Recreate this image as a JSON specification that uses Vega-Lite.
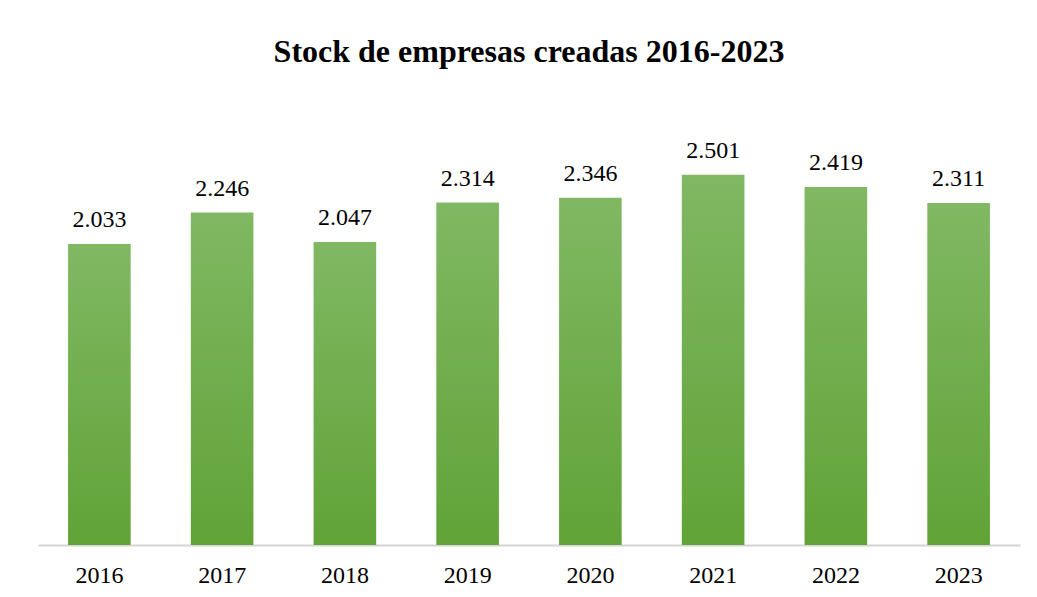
{
  "$schema": "https://vega.github.io/schema/vega-lite/v6.json",
  "autosize": "none",
  "width": 982,
  "height": 444,
  "padding": {"left": 38, "top": 101, "right": 17, "bottom": 52},
  "background": "white",
  "config": {
    "view": {"stroke": null},
    "locale": {"number": {"decimal": ",", "thousands": ".", "grouping": [3], "currency": ["", " €"]}},
    "font": "Liberation Serif, serif"
  },
  "title": {
    "text": "Stock de empresas creadas 2016-2023",
    "font": "Liberation Serif, serif",
    "fontSize": 32,
    "fontWeight": "bold",
    "color": "#000000",
    "anchor": "middle",
    "baseline": "alphabetic",
    "offset": 7
  },
  "data": {
    "values": [
      {"year": "2016", "empresas": 2033},
      {"year": "2017", "empresas": 2246},
      {"year": "2018", "empresas": 2047},
      {"year": "2019", "empresas": 2314},
      {"year": "2020", "empresas": 2346},
      {"year": "2021", "empresas": 2501},
      {"year": "2022", "empresas": 2419},
      {"year": "2023", "empresas": 2311}
    ]
  },
  "encoding": {
    "x": {
      "field": "year",
      "type": "ordinal",
      "scale": {"paddingInner": 0.49, "paddingOuter": 0.245},
      "axis": {
        "title": null,
        "labelAngle": 0,
        "labelFont": "Liberation Serif, serif",
        "labelFontSize": 24,
        "labelColor": "#000000",
        "labelBaseline": "alphabetic",
        "labelPadding": 37,
        "ticks": false,
        "domainColor": "#d4d4d4",
        "domainWidth": 2
      }
    },
    "y": {
      "field": "empresas",
      "type": "quantitative",
      "scale": {"domain": [0, 3000]},
      "axis": null
    }
  },
  "layer": [
    {
      "mark": {
        "type": "bar",
        "color": {
          "gradient": "linear",
          "x1": 0, "y1": 0, "x2": 0, "y2": 1,
          "stops": [
            {"offset": 0, "color": "#80b863"},
            {"offset": 1, "color": "#61a337"}
          ]
        }
      }
    },
    {
      "mark": {
        "type": "text",
        "font": "Liberation Serif, serif",
        "fontSize": 24,
        "color": "#000000",
        "baseline": "alphabetic",
        "dy": -17
      },
      "encoding": {
        "text": {"field": "empresas", "type": "quantitative", "format": ",.0f"}
      }
    }
  ]
}
